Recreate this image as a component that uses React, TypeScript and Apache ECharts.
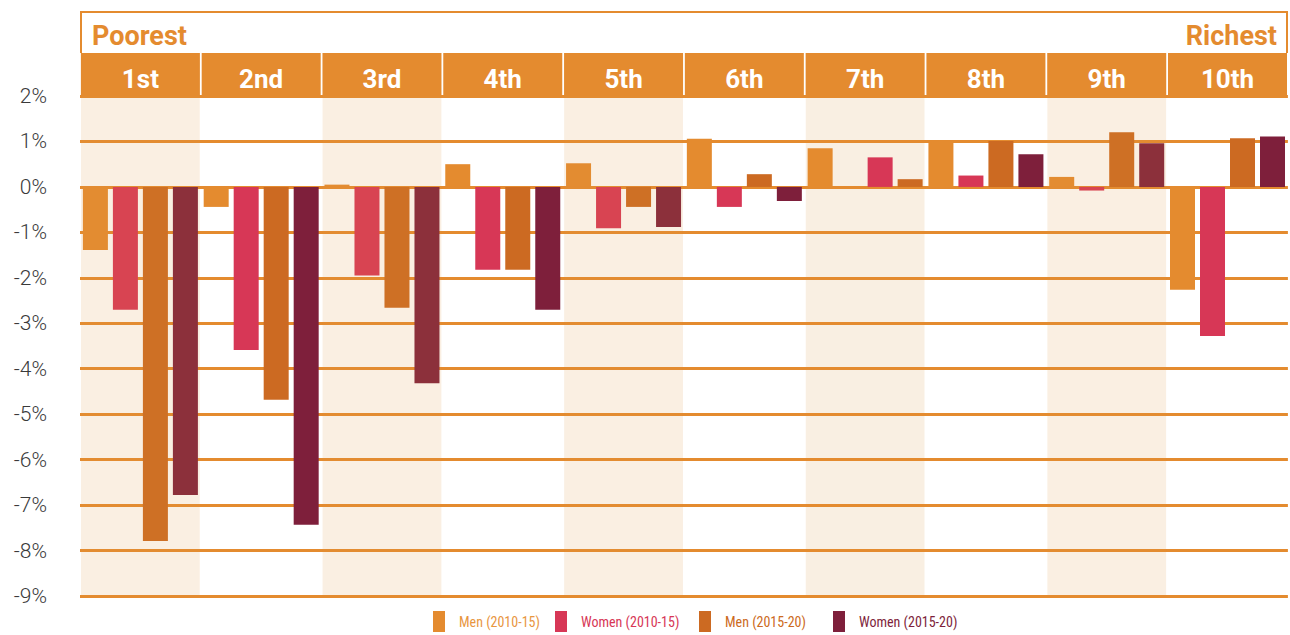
import React, { useEffect, useRef } from 'react';
import * as echarts from 'echarts';

const deciles = ['1st', '2nd', '3rd', '4th', '5th', '6th', '7th', '8th', '9th', '10th'];
const seriesNames = ['Men (2010-15)', 'Women (2010-15)', 'Men (2015-20)', 'Women (2015-20)'];
const men2010 = [-1.39, -0.44, 0.05, 0.5, 0.52, 1.06, 0.85, 1.01, 0.22, -2.26];
const women2010 = [-2.7, -3.59, -1.95, -1.82, -0.91, -0.44, 0, 0.25, -0.08, -3.28];
const men2015 = [-7.79, -4.68, -2.66, -1.82, -0.44, 0.28, 0.65, 1.01, 1.2, 1.07];
const women2015 = [-6.78, -7.43, -4.32, -2.7, -0.88, -0.31, 0.17, 0.72, 0.96, 1.11];
const seriesColors = ['#E48B2F', '#D73756', '#CC6A22', '#7E1F3B'];
const legendTextColors = ['#E8963F', '#D73756', '#CC6A22', '#7E1F3B'];
// in the 7th decile the reference colours slot 3 pink and slot 4 dark orange
const recolored: Record<string, string[]> = { '7th': ['', '', '#D73756', '#CC6A22'] };
const yMin = -9;
const yMax = 2;
const overlayBands = [0, 2, 4, 8];
const underlayBands = [6];
const leftLabel = 'Poorest';
const rightLabel = 'Richest';

const ORANGE = '#E48B2F';

export default function App() {
  const ref = useRef<HTMLDivElement>(null);
  useEffect(() => {
    if (!ref.current) return;
    const chart = echarts.init(ref.current, undefined, { renderer: 'svg' });
    const values = [men2010, women2010, men2015, women2015];
    const barSeries = values.map((arr, s) => ({
      type: 'bar',
      name: seriesNames[s],
      barWidth: 25,
      barGap: '20%',
      z: 2,
      itemStyle: { color: seriesColors[s] },
      data: arr.map((v, i) => {
        const rc = recolored[deciles[i]];
        if (rc && rc[s]) return { value: v, itemStyle: { color: rc[s] } };
        return v;
      }),
    }));
    const bandSeries = (bands: number[], fill: string, z: number) => ({
      type: 'custom',
      silent: true,
      z,
      encode: { x: 0, y: 1 },
      data: bands.map((b) => [b, 0]),
      renderItem: (params: any, api: any) => {
        const idx = api.value(0);
        const cx = api.coord([idx, 0])[0];
        const w = api.size([1, 0])[0] - 2;
        const cs = params.coordSys;
        return {
          type: 'rect',
          shape: { x: cx - w / 2, y: cs.y, width: w, height: cs.height },
          style: { fill },
        };
      },
    });
    const legendLefts = [428, 550, 694, 828];
    chart.setOption({
      animation: false,
      grid: { left: 80, right: 2, top: 96, bottom: 39, containLabel: false },
      xAxis: {
        type: 'category',
        data: deciles,
        position: 'top',
        axisLine: { show: false },
        axisTick: { show: false },
        splitLine: { show: false },
        axisLabel: {
          interval: 0,
          margin: 0,
          color: '#fff',
          fontFamily: 'Roboto',
          fontWeight: 'bold',
          fontSize: 26,
          backgroundColor: ORANGE,
          width: 119,
          height: 43,
          lineHeight: 34,
          align: 'center',
        },
      },
      yAxis: {
        type: 'value',
        min: yMin,
        max: yMax,
        interval: 1,
        z: 1,
        axisLine: { show: false },
        axisTick: { show: false },
        splitLine: { lineStyle: { color: ORANGE, width: 3 } },
        axisLabel: {
          margin: 33,
          color: '#3a3a3a',
          fontFamily: 'Roboto',
          fontWeight: 300,
          fontSize: 21,
          formatter: (v: number) => `${v}%`,
        },
      },
      legend: seriesNames.map((n, i) => ({
        data: [n],
        left: legendLefts[i],
        top: 606,
        itemWidth: 12,
        itemHeight: 21,
        icon: 'rect',
        selectedMode: false,
        textStyle: {
          color: legendTextColors[i],
          fontFamily: "'Liberation Sans Narrow', 'Roboto Condensed', Roboto",
          fontSize: 14,
          padding: [2, 0, 0, 9],
        },
      })),
      graphic: [
        {
          type: 'polyline',
          shape: { points: [[81, 53], [81, 12], [1287, 12], [1287, 53]] },
          style: { stroke: ORANGE, lineWidth: 2, fill: 'none' },
        },
        {
          type: 'text',
          left: 92,
          top: 22,
          style: { text: leftLabel, fill: ORANGE, font: 'bold 27px Roboto' },
        },
        {
          type: 'text',
          right: 13,
          top: 22,
          style: { text: rightLabel, fill: ORANGE, font: 'bold 27px Roboto', textAlign: 'right' },
        },
      ],
      series: [
        bandSeries(underlayBands, '#F9EFE2', 0),
        ...barSeries,
        bandSeries(overlayBands, 'rgba(222,150,60,0.15)', 5),
      ],
    });
    return () => chart.dispose();
  }, []);
  return (
    <div
      ref={ref}
      style={{ position: 'fixed', left: 0, top: 0, width: 1290, height: 635, background: '#fff' }}
    />
  );
}
